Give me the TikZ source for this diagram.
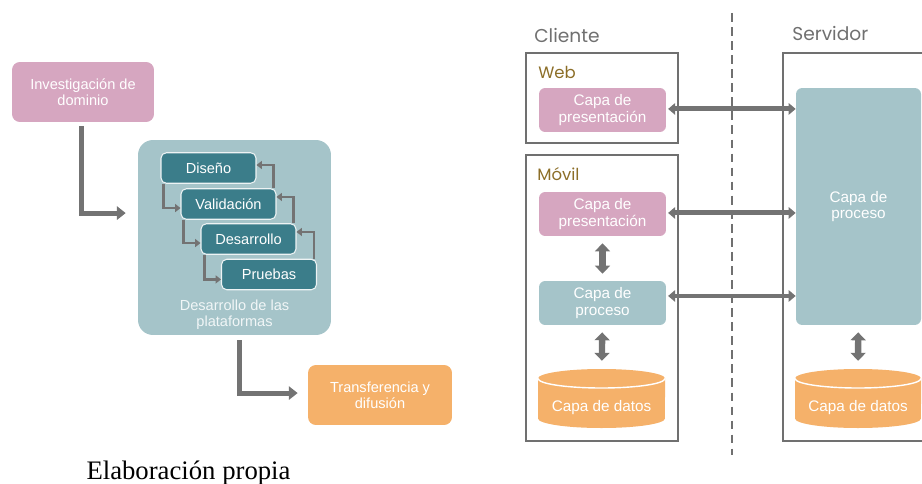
\documentclass[tikz,border=0pt]{standalone}
\usepackage{fontspec}
\setmainfont{Liberation Serif}
\newfontfamily\boxfont{Liberation Sans}
\newfontfamily\headfont{Poppins}
\usetikzlibrary{arrows.meta}
\definecolor{colpink}{RGB}{214,166,192}
\definecolor{colteal}{RGB}{165,196,201}
\definecolor{coldark}{RGB}{59,125,138}
\definecolor{colorange}{RGB}{245,177,106}
\definecolor{colgold}{RGB}{140,110,40}
\definecolor{colarrow}{RGB}{115,115,115}
\definecolor{colframe}{RGB}{112,112,112}

\begin{document}
\begin{tikzpicture}[x=0.02cm, y=-0.02cm,
		stage/.style={rounded corners=4.5pt, minimum width=2.84cm, minimum height=1.2cm, inner sep=0pt,
			align=center, text=white, font=\boxfont\fontsize{8.3}{9.2}\selectfont},
		phase/.style={draw=white!80!colteal, line width=0.6pt, fill=coldark, rounded corners=3pt,
			minimum width=1.9cm, minimum height=0.61cm, inner sep=0pt, text=white,
			font=\boxfont\fontsize{8.3}{9.2}\selectfont},
		layer/.style={rounded corners=3.5pt, minimum width=2.54cm, minimum height=0.88cm, inner sep=0pt,
			align=center, text=white, font=\boxfont\fontsize{8.7}{9.6}\selectfont},
		frame/.style={draw=colframe, line width=0.9pt, minimum width=3.04cm, inner sep=0pt},
		head/.style={anchor=west, inner sep=0pt, font=\headfont\fontsize{10.6}{12}\selectfont, text=colframe},
		tag/.style={anchor=west, inner sep=0pt, font=\headfont\fontsize{9.4}{11}\selectfont, text=colgold},
		bigarrow/.style={draw=colarrow, line width=2.8pt, -{Triangle[width=7.5pt,length=5pt]}},
		smallarrow/.style={draw=colarrow, line width=1.6pt, -{Triangle[width=4.5pt,length=3pt]}},
		hdouble/.style={draw=colarrow, line width=2.8pt,
			{Triangle[width=6.5pt,length=4pt]}-{Triangle[width=6.5pt,length=4pt]}},
		vdouble/.style={draw=colarrow, line width=3.6pt,
			{Triangle[width=8.5pt,length=4.5pt]}-{Triangle[width=8.5pt,length=4.5pt]}}
	]
	\useasboundingbox (0,0) rectangle (922,483);

	% left: phases of the project
	\node[stage, fill=colpink] (inv) at (83,92) {Investigación de\\dominio};
	\node[stage, fill=colteal, minimum width=3.86cm, minimum height=3.9cm, rounded corners=8.5pt] (plat) at (234.5,237.5) {};
	\node[stage, text=white!85!colteal, minimum width=0pt, minimum height=0pt] (platl) at (234.5,314.5) {Desarrollo de las\\plataformas};
	\node[stage, fill=colorange, minimum width=2.88cm] (tra) at (380,395) {Transferencia y\\difusión};

	\node[phase] (dis) at (208.5,168) {Diseño};
	\node[phase] (val) at (228.5,204) {Validación};
	\node[phase] (des) at (248.5,239) {Desarrollo};
	\node[phase] (pru) at (269,274.5) {Pruebas};

	\draw[smallarrow] ([xshift=1.7pt]dis.south west) |- ([yshift=-2.3pt]val.west);
	\draw[smallarrow] ([xshift=1.7pt]val.south west) |- ([yshift=-2.3pt]des.west);
	\draw[smallarrow] ([xshift=2.2pt]des.south west) |- ([yshift=-2.8pt]pru.west);
	\draw[smallarrow] ([xshift=-1.7pt]val.north east) |- ([yshift=1.7pt]dis.east);
	\draw[smallarrow] ([xshift=-1.7pt]des.north east) |- ([yshift=4pt]val.east);
	\draw[smallarrow] ([xshift=-1.7pt]pru.north east) |- ([yshift=4pt]des.east);

	\draw[bigarrow] ([xshift=-0.6pt,yshift=-2.3pt]inv.south) |- ([shift={(-6.8pt,13.9pt)}]plat.west);
	\draw[bigarrow] ([xshift=3.1pt,yshift=-2.8pt]plat.south) |- ([xshift=-5.7pt,yshift=1.1pt]tra.west);

	\node[font=\fontsize{15.2}{18}\selectfont, anchor=base, inner sep=0pt] (cap) at (188.5,479) {Elaboración propia};

	% right: client and server
	\draw[colframe, line width=0.7pt, dash pattern=on 5pt off 3pt] (732,13) -- (732,455);
	\node[head] (cli) at (534,35) {Cliente};
	\node[head] (ser) at (792,33) {Servidor};

	\node[frame, minimum height=1.8cm] (web) at (602,98) {};
	\node[frame, minimum height=5.72cm] (mov) at (602,298) {};
	\draw[colframe, line width=0.9pt] (922,53) -| (783,441) -- (922,441);
	\node[tag] (webl) at (538,72) {Web};
	\node[tag] (movl) at (537,174) {Móvil};

	\node[layer, fill=colpink] (wpres) at (602.5,110) {Capa de\\presentación};
	\node[layer, fill=colpink] (mpres) at (602.5,214) {Capa de\\presentación};
	\node[layer, fill=colteal] (mproc) at (602.5,303) {Capa de\\proceso};
	\node[layer, fill=colteal, minimum width=2.5cm, minimum height=4.74cm] (sproc) at (858.5,206.5) {Capa de\\proceso};

	% databases
	\fill[colorange] (538,378.5) -- (538,418.5) arc[start angle=180, end angle=360, x radius=1.27cm, y radius=0.19cm]
		-- (665,378.5) arc[start angle=0, end angle=180, x radius=1.27cm, y radius=0.19cm] -- cycle;
	\draw[white, line width=0.8pt] (538,378.5) arc[start angle=180, end angle=360, x radius=1.27cm, y radius=0.19cm];
	\fill[colorange] (795,378.5) -- (795,418.5) arc[start angle=180, end angle=360, x radius=1.26cm, y radius=0.19cm]
		-- (921,378.5) arc[start angle=0, end angle=180, x radius=1.26cm, y radius=0.19cm] -- cycle;
	\draw[white, line width=0.8pt] (795,378.5) arc[start angle=180, end angle=360, x radius=1.26cm, y radius=0.19cm];
	\node[layer, minimum height=1.2cm] (mdat) at (601.5,399) {};
	\node[layer, minimum height=1.2cm] (sdat) at (858,399) {};
	\node[layer, minimum width=0pt, minimum height=0pt] (mdatl) at (601.5,408) {Capa de datos};
	\node[layer, minimum width=0pt, minimum height=0pt] (sdatl) at (858,408) {Capa de datos};

	\draw[hdouble] ([xshift=1pt,yshift=0.6pt]wpres.east) -- ([yshift=0.6pt]wpres.east -| sproc.west);
	\draw[hdouble] ([xshift=1pt,yshift=0.6pt]mpres.east) -- ([yshift=0.6pt]mpres.east -| sproc.west);
	\draw[hdouble] ([xshift=1pt,yshift=4pt]mproc.east) -- ([yshift=4pt]mproc.east -| sproc.west);
	\draw[vdouble, shorten <=4pt, shorten >=4pt] (mpres) -- (mproc);
	\draw[vdouble, shorten <=4pt, shorten >=4.5pt] (mproc) -- (mdat);
	\draw[vdouble, shorten <=4pt, shorten >=4.5pt] (sproc) -- (sdat);
\end{tikzpicture}
\end{document}
